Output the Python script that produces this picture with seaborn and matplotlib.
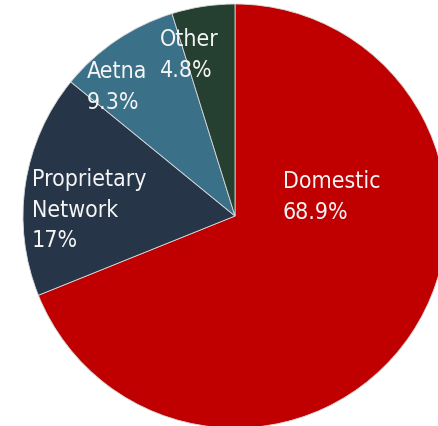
import matplotlib
matplotlib.use("Agg")
import matplotlib.pyplot as plt
import seaborn as sns

# Revenue mix by segment (percent of total)
categories = ["Domestic", "Proprietary\nNetwork", "Aetna", "Other"]
shares = [68.9, 17.0, 9.3, 4.8]
slice_colors = ["#C00000", "#263648", "#3A7088", "#254030"]

# Label anchor (left / top) for each slice, in pixel units of the canvas
label_xy = [(283, 257), (32, 259), (87, 367), (160, 399)]

sns.set_theme(style="white")
plt.rcParams["font.family"] = ["DejaVu Sans"]

W, H = 438, 427
fig = plt.figure(figsize=(W / 100, H / 100), dpi=100)
ax = fig.add_axes([0, 0, 1, 1])

palette = sns.color_palette(slice_colors)
ax.pie(
    shares,
    colors=palette,
    startangle=90,
    counterclock=False,
    center=(235, 210),
    radius=212,
    frame=True,
    wedgeprops=dict(edgecolor="#d9d9d9", linewidth=0.6),
)
ax.set_xlim(0, W)
ax.set_ylim(0, H)
ax.set_aspect("equal")
ax.axis("off")

for name, val, (x, y) in zip(categories, shares, label_xy):
    ax.text(x, y, f"{name}\n{val:g}%", ha="left", va="top",
            color="#F5F5F5", fontsize=16.6, fontstretch="condensed",
            linespacing=1.42)

fig.savefig("out.png", dpi=100, facecolor="white")
